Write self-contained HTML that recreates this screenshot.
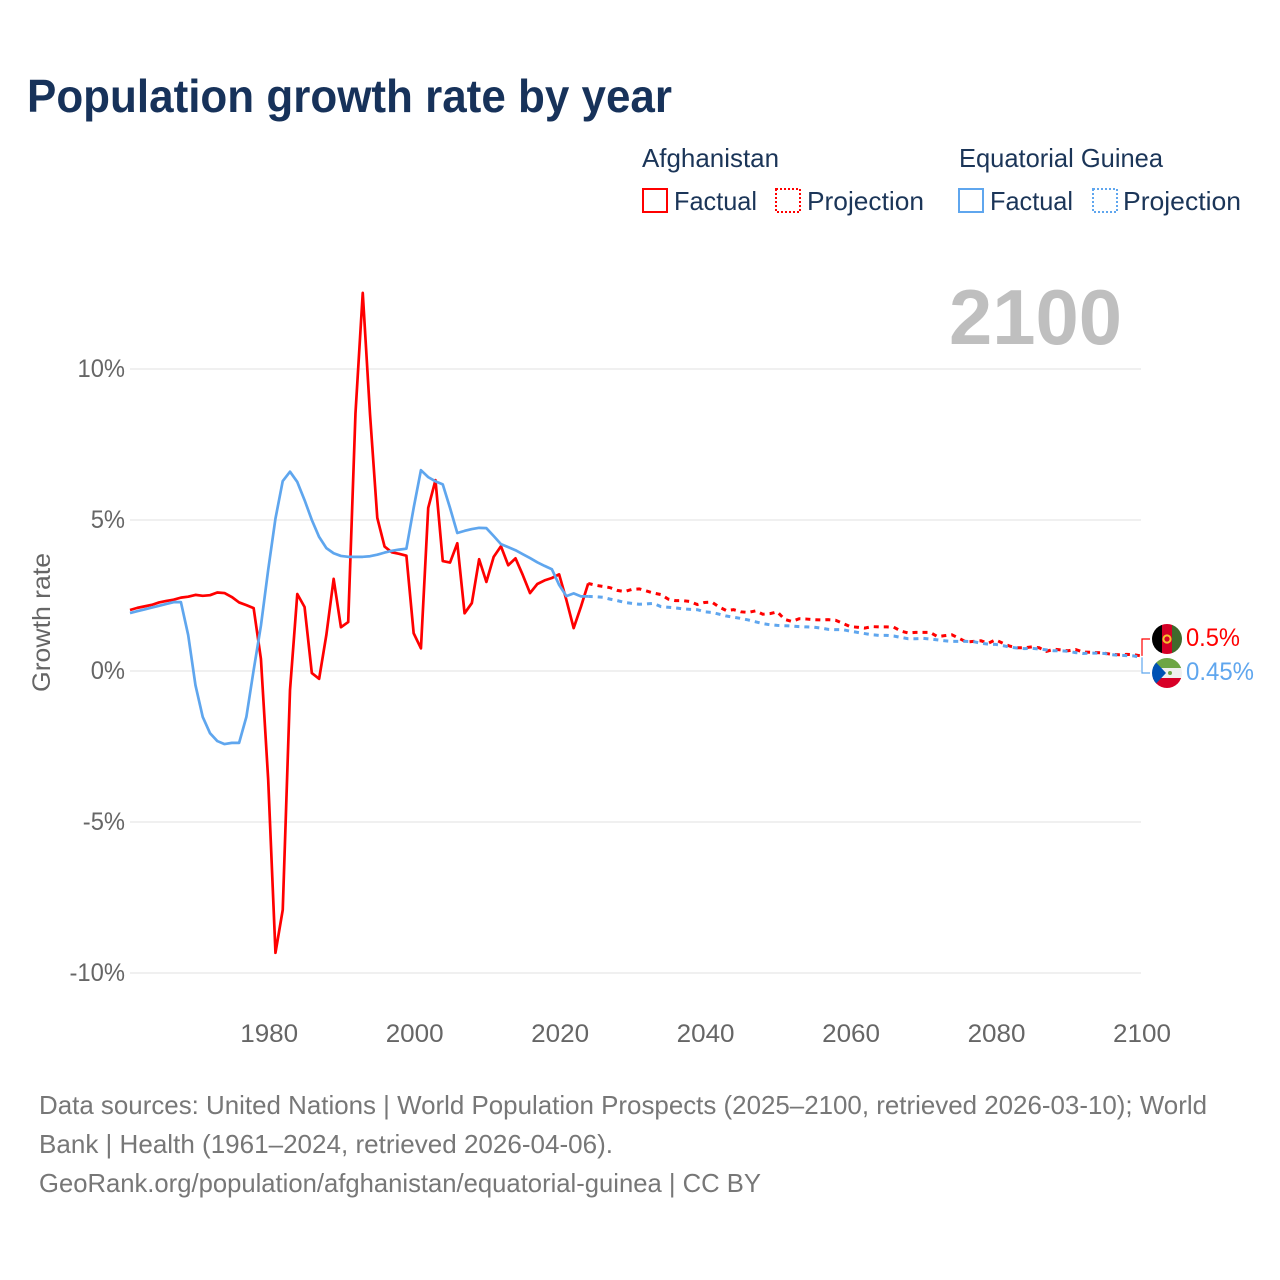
<!DOCTYPE html>
<html lang="en">
<head>
<meta charset="utf-8">
<title>Population growth rate by year</title>
<style>
  html, body { margin: 0; padding: 0; background: #fff; }
  svg { display: block; font-family: "Liberation Sans", sans-serif; }
</style>
</head>
<body>
<svg id="chart" xmlns="http://www.w3.org/2000/svg" width="1280" height="1280" viewBox="0 0 1280 1280">
  <defs>
    <clipPath id="clip-af"><circle cx="1167" cy="639" r="15"/></clipPath>
    <clipPath id="clip-eg"><circle cx="1167" cy="673" r="15"/></clipPath>
  </defs>
  <rect width="1280" height="1280" fill="#ffffff"/>
  <text x="27" y="112" font-size="46" font-weight="700" fill="#17325a" textLength="645" lengthAdjust="spacingAndGlyphs">Population growth rate by year</text>

  <g font-size="26" fill="#1b3558">
    <text x="642" y="167" textLength="137" lengthAdjust="spacingAndGlyphs">Afghanistan</text>
    <text x="959" y="167" textLength="204" lengthAdjust="spacingAndGlyphs">Equatorial Guinea</text>
    <rect x="643" y="189" width="24" height="23" fill="none" stroke="#ff0000" stroke-width="2"/>
    <text x="674" y="210" textLength="83" lengthAdjust="spacingAndGlyphs">Factual</text>
    <rect x="776" y="189" width="24" height="23" fill="none" stroke="#ff0000" stroke-width="2" stroke-dasharray="2 2"/>
    <text x="807" y="210" textLength="117" lengthAdjust="spacingAndGlyphs">Projection</text>
    <rect x="959" y="189" width="24" height="23" fill="none" stroke="#5fa6ee" stroke-width="2"/>
    <text x="990" y="210" textLength="83" lengthAdjust="spacingAndGlyphs">Factual</text>
    <rect x="1093" y="189" width="24" height="23" fill="none" stroke="#5fa6ee" stroke-width="2" stroke-dasharray="2 2"/>
    <text x="1123" y="210" textLength="118" lengthAdjust="spacingAndGlyphs">Projection</text>
  </g>

  <text x="949" y="344" font-size="78" font-weight="700" fill="#bfbfbf" textLength="173" lengthAdjust="spacingAndGlyphs">2100</text>

  <text transform="translate(50,692) rotate(-90)" font-size="25" fill="#666666" textLength="139" lengthAdjust="spacingAndGlyphs">Growth rate</text>

  <g id="grid"></g>
  <g id="yticks"></g>
  <g id="xticks"></g>
  <g id="series"></g>
  <g id="connectors"></g>

  <g clip-path="url(#clip-af)">
    <rect x="1152" y="624" width="10" height="30" fill="#000000"/>
    <rect x="1162" y="624" width="10" height="30" fill="#d40026"/>
    <rect x="1172" y="624" width="10" height="30" fill="#3f6a2c"/>
    <circle cx="1167" cy="639" r="3.6" fill="none" stroke="#f3c32d" stroke-width="2"/>
  </g>
  <g clip-path="url(#clip-eg)">
    <rect x="1152" y="658" width="30" height="10" fill="#6da544"/>
    <rect x="1152" y="668" width="30" height="10" fill="#f0f0f0"/>
    <rect x="1152" y="678" width="30" height="10" fill="#d80027"/>
    <polygon points="1152,658 1152,688 1166,673" fill="#0052b4"/>
    <circle cx="1170" cy="673" r="2" fill="#6da544"/>
  </g>
  <text x="1186" y="646" font-size="25" fill="#ff0000" textLength="54" lengthAdjust="spacingAndGlyphs">0.5%</text>
  <text x="1186" y="680" font-size="25" fill="#5fa6ee" textLength="68" lengthAdjust="spacingAndGlyphs">0.45%</text>

  <g font-size="26" fill="#777777">
    <text x="39" y="1114" textLength="1168" lengthAdjust="spacingAndGlyphs">Data sources: United Nations | World Population Prospects (2025–2100, retrieved 2026-03-10); World</text>
    <text x="39" y="1153" textLength="574" lengthAdjust="spacingAndGlyphs">Bank | Health (1961–2024, retrieved 2026-04-06).</text>
    <text x="39" y="1192" textLength="722" lengthAdjust="spacingAndGlyphs">GeoRank.org/population/afghanistan/equatorial-guinea | CC BY</text>
  </g>
</svg>

<script>
const factualStartYear = 1961;
const projectionStartYear = 2025;

const afghanistanFactual = [
  2.02, 2.09, 2.14, 2.19, 2.27, 2.32, 2.36, 2.43, 2.46, 2.52,
  2.49, 2.51, 2.6, 2.58, 2.45, 2.27, 2.18, 2.08,
  0.4, -3.6, -9.33, -7.91, -0.63, 2.55, 2.12, -0.07, -0.26, 1.2, 3.05, 1.45,
  1.62, 8.53, 12.52, 8.5, 5.07, 4.12, 3.93, 3.88, 3.82, 1.25,
  0.75, 5.4, 6.32, 3.64, 3.59, 4.23, 1.91, 2.25, 3.7, 2.95,
  3.78, 4.13, 3.5, 3.73, 3.18, 2.58, 2.88, 3.0, 3.08, 3.2,
  2.35, 1.42, 2.13, 2.9
];
const equatorialGuineaFactual = [
  1.92, 1.98, 2.04, 2.10, 2.16, 2.22, 2.28, 2.28, 1.19, -0.47,
  -1.52, -2.06, -2.32, -2.42, -2.38, -2.38, -1.52, 0.03, 1.5, 3.35,
  5.05, 6.29, 6.6, 6.26, 5.66, 5.0, 4.44, 4.07, 3.9, 3.81,
  3.78, 3.78, 3.78, 3.8, 3.85, 3.92, 3.98, 4.02, 4.05, 5.4,
  6.65, 6.42, 6.28, 6.18, 5.4, 4.57, 4.64, 4.7, 4.74, 4.73,
  4.47, 4.2, 4.1, 4.0, 3.87, 3.74, 3.6, 3.48, 3.37, 2.85,
  2.48, 2.57, 2.47, 2.47
];
const afghanistanProjection = [
  2.84, 2.80, 2.76, 2.67, 2.63, 2.70, 2.72, 2.65, 2.58, 2.53,
  2.38, 2.33, 2.33, 2.30, 2.20, 2.27, 2.28, 2.12, 2.0, 2.03,
  1.96, 1.94, 1.99, 1.88, 1.90, 1.96, 1.71, 1.64, 1.73, 1.72,
  1.70, 1.69, 1.70, 1.68, 1.58, 1.47, 1.45, 1.42,
  1.47, 1.46, 1.46, 1.45, 1.32, 1.26, 1.28, 1.28, 1.28, 1.14,
  1.17, 1.20, 1.08, 0.96, 0.98, 1.00, 0.92, 1.03, 0.92, 0.82,
  0.77, 0.77, 0.80, 0.77, 0.65, 0.72, 0.70, 0.67, 0.71, 0.63,
  0.62, 0.61, 0.59, 0.55, 0.54, 0.55, 0.54, 0.5
];
const equatorialGuineaProjection = [
  2.46, 2.44, 2.38, 2.33, 2.27, 2.24, 2.21, 2.22, 2.24, 2.13,
  2.11, 2.09, 2.06, 2.04, 2.03, 1.96, 1.94, 1.88, 1.82, 1.78,
  1.74, 1.69, 1.63, 1.57, 1.53, 1.51, 1.50, 1.49, 1.47, 1.46,
  1.45, 1.42, 1.38, 1.37, 1.37, 1.32, 1.28, 1.24,
  1.20, 1.18, 1.18, 1.16, 1.11, 1.07, 1.07, 1.08, 1.06, 1.03,
  1.00, 0.98, 0.98, 0.98, 0.97, 0.92, 0.89, 0.88, 0.84, 0.79,
  0.76, 0.74, 0.75, 0.73, 0.70, 0.67, 0.67, 0.65, 0.61, 0.58,
  0.59, 0.59, 0.58, 0.54, 0.52, 0.51, 0.50, 0.45
];
const yTickValues = [10, 5, 0, -5, -10];
const yTickLabels = ["10%", "5%", "0%", "-5%", "-10%"];
const xTickValues = [1980, 2000, 2020, 2040, 2060, 2080, 2100];
const xTickLabels = ["1980", "2000", "2020", "2040", "2060", "2080", "2100"];

const NS = "http://www.w3.org/2000/svg";
function xScale(year) { return 130 + (year - 1961) * (1141 - 130) / (2100 - 1961); }
function yScale(value) { return 671 - value * 30.2; }

const gridGroup = document.getElementById("grid");
const yTickGroup = document.getElementById("yticks");
const xTickGroup = document.getElementById("xticks");
const seriesGroup = document.getElementById("series");
const connectorGroup = document.getElementById("connectors");

yTickValues.forEach(function (value, i) {
  const line = document.createElementNS(NS, "line");
  
  
  line.setAttribute("x1", xScale(1961));
  line.setAttribute("x2", xScale(2100));
  line.setAttribute("y1", yScale(value));
  line.setAttribute("y2", yScale(value));
  line.setAttribute("stroke", "#ececec");
  line.setAttribute("stroke-width", "1.5");
  gridGroup.appendChild(line);

  const label = document.createElementNS(NS, "text");
  
  
  label.setAttribute("x", 125);
  label.setAttribute("y", yScale(value) + 8);
  label.setAttribute("text-anchor", "end");
  label.setAttribute("font-size", "25");
  label.setAttribute("fill", "#666666");
  label.textContent = yTickLabels[i];
  yTickGroup.appendChild(label);
  label.setAttribute("lengthAdjust", "spacingAndGlyphs");
  label.setAttribute("textLength", (label.getComputedTextLength() * 0.95).toFixed(1));
});

xTickValues.forEach(function (year, i) {
  const label = document.createElementNS(NS, "text");
  
  
  label.setAttribute("x", xScale(year) + 1);
  label.setAttribute("y", 1042);
  label.setAttribute("text-anchor", "middle");
  label.setAttribute("font-size", "25");
  label.setAttribute("fill", "#666666");
  label.textContent = xTickLabels[i];
  xTickGroup.appendChild(label);
  label.setAttribute("lengthAdjust", "spacingAndGlyphs");
  label.setAttribute("textLength", (label.getComputedTextLength() * 1.04).toFixed(1));
});

function pathFor(values, startYear, lead) {
  const parts = [];
  if (lead !== undefined) {
    parts.push(xScale(startYear - 1).toFixed(2) + "," + yScale(lead).toFixed(2));
  }
  values.forEach(function (value, i) {
    parts.push(xScale(startYear + i).toFixed(2) + "," + yScale(value).toFixed(2));
  });
  return "M" + parts.join("L");
}

function drawSeries(name, color, factual, projection) {
  const solid = document.createElementNS(NS, "path");
  
  
  solid.setAttribute("d", pathFor(factual, factualStartYear));
  solid.setAttribute("fill", "none");
  solid.setAttribute("stroke", color);
  solid.setAttribute("stroke-width", "2.7");
  solid.setAttribute("stroke-linejoin", "round");
  seriesGroup.appendChild(solid);

  const dashed = document.createElementNS(NS, "path");
  
  
  dashed.setAttribute("d", pathFor(projection, projectionStartYear, factual[factual.length - 1]));
  dashed.setAttribute("fill", "none");
  dashed.setAttribute("stroke", color);
  dashed.setAttribute("stroke-width", "3");
  dashed.setAttribute("stroke-dasharray", "5 5");
  dashed.setAttribute("stroke-dashoffset", "0.5");
  seriesGroup.appendChild(dashed);
}

drawSeries("afghanistan", "#ff0000", afghanistanFactual, afghanistanProjection);
drawSeries("equatorial-guinea", "#5fa6ee", equatorialGuineaFactual, equatorialGuineaProjection);

const endX = xScale(2100) + 1;
const redConnector = document.createElementNS(NS, "path");


redConnector.setAttribute("d", "M" + endX + "," + yScale(afghanistanProjection[afghanistanProjection.length - 1]) + "V639H1150");
redConnector.setAttribute("fill", "none");
redConnector.setAttribute("stroke", "#ff0000");
redConnector.setAttribute("stroke-width", "1.2");
connectorGroup.appendChild(redConnector);

const blueConnector = document.createElementNS(NS, "path");


blueConnector.setAttribute("d", "M" + endX + "," + yScale(equatorialGuineaProjection[equatorialGuineaProjection.length - 1]) + "V673H1150");
blueConnector.setAttribute("fill", "none");
blueConnector.setAttribute("stroke", "#5fa6ee");
blueConnector.setAttribute("stroke-width", "1.2");
connectorGroup.appendChild(blueConnector);
</script>
</body>
</html>
